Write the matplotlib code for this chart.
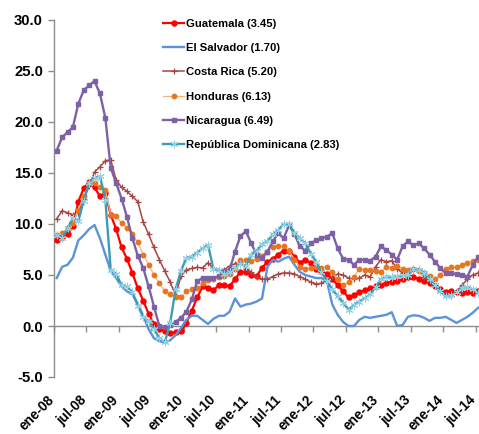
import matplotlib
matplotlib.use("Agg")
import matplotlib.pyplot as plt
import matplotlib.transforms as mtransforms
import numpy as np

plt.rcParams['font.family'] = ['Liberation Sans', 'DejaVu Sans']

# ---- data (monthly, ene-08 .. jul-14) ----
tick_labels = ["ene-08", "jul-08", "ene-09", "jul-09", "ene-10", "jul-10", "ene-11",
               "jul-11", "ene-12", "jul-12", "ene-13", "jul-13", "ene-14", "jul-14"]

guatemala = [8.4, 8.7, 9.0, 9.8, 12.2, 13.5, 14.1, 13.6, 12.7, 13.0, 10.9, 9.5,
             7.7, 6.6, 5.2, 3.7, 2.5, 1.2, 0.2, -0.3, -0.5, -0.7, -0.6, -0.5,
             0.3, 1.5, 2.8, 3.9, 3.7, 3.5, 4.0, 4.0, 3.9, 4.6, 5.3, 5.3,
             5.0, 4.9, 5.7, 6.3, 6.6, 7.0, 7.4, 7.4, 6.8, 6.2, 6.5, 6.2,
             5.6, 5.4, 5.1, 4.6, 4.0, 3.4, 2.8, 3.0, 3.3, 3.5, 3.7, 3.9,
             4.0, 4.2, 4.35, 4.4, 4.6, 4.8, 4.85, 4.6, 4.4, 4.2, 3.9, 3.6,
             3.35, 3.4, 3.3, 3.2, 3.3, 3.2, 3.4]

el_salvador = [4.7, 5.8, 6.0, 6.7, 8.4, 8.9, 9.5, 9.9, 8.6, 7.0, 5.4, 4.7,
               3.9, 3.4, 3.1, 2.2, 1.0, -0.3, -1.2, -1.5, -1.6, -1.4, -0.9, -0.2,
               0.6, 1.0, 1.0, 0.6, 0.2, 0.7, 1.0, 1.0, 1.4, 2.7, 1.9, 2.1,
               2.2, 2.4, 2.7, 5.8, 6.5, 6.3, 6.6, 6.8, 6.0, 5.3, 5.0, 4.85,
               4.7, 4.7, 4.4, 2.1, 1.1, 0.4, 0.0, 0.0, 0.6, 0.9, 0.8, 0.9,
               1.0, 1.1, 1.35, 0.0, 0.1, 0.9, 1.05, 1.0, 0.8, 0.5, 0.8, 0.8,
               0.9, 0.6, 0.3, 0.6, 0.9, 1.3, 1.8]

costa_rica = [10.5, 11.3, 11.1, 10.9, 11.1, 12.5, 13.7, 15.1, 15.6, 16.2, 16.3, 14.3,
              13.6, 13.2, 12.7, 12.2, 10.2, 9.0, 7.7, 6.5, 5.4, 4.3, 3.0, 4.9,
              5.5, 5.65, 5.75, 5.7, 6.2, 5.65, 5.5, 5.5, 5.9, 6.1, 6.3, 5.6,
              5.3, 4.8, 4.6, 4.6, 4.85, 5.1, 5.2, 5.2, 5.1, 4.85, 4.6, 4.3,
              4.1, 4.2, 4.5, 4.8, 5.1, 5.0, 4.7, 4.6, 4.7, 5.0, 4.8, 5.8,
              6.5, 6.3, 6.4, 5.6, 5.2, 5.4, 5.5, 5.6, 4.8, 4.4, 3.9, 3.5,
              3.0, 2.9, 3.4, 4.0, 4.6, 5.0, 5.2]

honduras = [8.9, 9.1, 9.6, 10.1, 11.4, 12.7, 14.0, 14.0, 13.6, 13.3, 10.9, 10.8,
            10.1, 9.6, 9.0, 8.2, 7.0, 6.0, 5.0, 4.2, 3.4, 3.1, 2.8, 2.8,
            3.4, 3.6, 3.7, 4.2, 4.5, 4.6, 4.8, 4.9, 5.1, 5.6, 6.5, 6.5,
            6.4, 6.6, 6.9, 7.3, 7.7, 7.8, 7.8, 7.4, 6.5, 5.8, 5.6, 5.7,
            5.8, 5.7, 5.8, 5.3, 4.6, 4.0, 4.3, 4.8, 5.6, 5.5, 5.5, 5.4,
            5.3, 5.8, 5.7, 5.9, 5.6, 5.5, 5.6, 5.4, 5.2, 4.9, 4.6, 5.0,
            5.6, 5.8, 5.8, 6.0, 6.2, 6.4, 6.5]

nicaragua = [17.2, 18.5, 19.0, 19.5, 21.8, 23.1, 23.6, 24.0, 22.8, 20.4, 15.5, 14.0,
             12.5, 10.7, 8.6, 6.9, 5.7, 3.9, 1.9, 0.0, -0.1, 0.1, 0.4, 0.8,
             1.4, 2.6, 4.4, 4.7, 4.7, 4.7, 4.9, 5.4, 5.5, 7.3, 8.8, 9.3,
             8.1, 7.0, 6.7, 7.3, 8.3, 9.1, 8.6, 9.9, 9.0, 7.8, 7.4, 8.1,
             8.4, 8.6, 8.75, 9.1, 7.6, 6.6, 6.5, 6.0, 6.5, 6.5, 6.4, 6.8,
             7.8, 7.45, 7.0, 6.5, 7.8, 8.3, 7.9, 8.1, 7.6, 7.0, 6.3, 5.65,
             5.2, 5.15, 5.1, 5.0, 4.85, 6.0, 6.8]

rep_dominicana = [8.9, 8.6, 9.6, 10.6, 10.3, 12.3, 14.0, 14.5, 14.7, 12.4, 5.5, 5.1,
                  4.0, 3.9, 3.3, 2.0, 0.9, 0.5, -0.3, -1.2, -1.6, 0.3, 3.6, 5.4,
                  6.7, 6.8, 7.2, 7.6, 7.95, 5.6, 5.5, 5.1, 5.3, 5.7, 6.1, 5.9,
                  7.0, 7.4, 8.0, 8.3, 9.0, 9.4, 10.0, 10.0, 9.1, 8.6, 8.1, 7.1,
                  6.3, 5.3, 4.4, 3.6, 2.9, 2.3, 1.6, 2.05, 2.4, 2.7, 3.1, 3.8,
                  4.6, 4.85, 4.8, 4.9, 4.9, 5.0, 5.6, 5.5, 5.2, 4.6, 4.0, 3.4,
                  2.9, 3.0, 3.3, 3.7, 3.8, 3.6, 3.2]

series_names = ["Guatemala (3.45)", "El Salvador (1.70)", "Costa Rica (5.20)",
                "Honduras (6.13)", "Nicaragua (6.49)", "República Dominicana (2.83)"]

# ---- figure ----
W, H = 479, 434
fig = plt.figure(figsize=(W / 100, H / 100), dpi=100)
ax = fig.add_axes([54 / W, 1 - 377 / H, (W - 54) / W + 0.004, (377 - 20) / H])

x = np.arange(len(guatemala))

ax.plot(x, guatemala, color='#FF0000', lw=1.6, marker='o', ms=3.6,
        mfc='#FF0000', mec='#FF0000', label=series_names[0], zorder=3)
ax.plot(x, el_salvador, color='#5B93DB', lw=1.7, label=series_names[1], zorder=3)
ax.plot(x, costa_rica, color='#A64744', lw=1.1, marker='+', ms=5, mew=0.9,
        label=series_names[2], zorder=3)
ax.plot(x, honduras, color='#F9B27A', lw=0.9, marker='o', ms=3.2,
        mfc='#E8761E', mec='#E8761E', label=series_names[3], zorder=3)
ax.plot(x, nicaragua, color='#7D60A6', lw=1.7, marker='s', ms=3.3,
        mfc='#7D60A6', mec='#7D60A6', label=series_names[4], zorder=3)
ax.plot(x, rep_dominicana, color='#3C9CB4', lw=1.7, marker=(6, 2, 0), ms=5.5,
        mew=0.7, mec='#8FD0E2', label=series_names[5], zorder=3)

ax.set_xlim(-0.5, len(guatemala) - 0.5)
ax.set_ylim(-5, 30)
ax.set_yticks(np.arange(-5, 31, 5))
ax.set_yticklabels([f"{v:.1f}" for v in np.arange(-5, 31, 5)],
                   fontsize=10.7, fontweight='bold')

axis_col = '#8C8C8C'
for s in ['top', 'right']:
    ax.spines[s].set_visible(False)
ax.spines['left'].set_color(axis_col)
ax.spines['left'].set_linewidth(1.0)
ax.spines['bottom'].set_position(('data', 0))
ax.spines['bottom'].set_color(axis_col)
ax.spines['bottom'].set_linewidth(1.0)
ax.tick_params(axis='y', colors=axis_col, length=4, width=1, labelcolor='black', pad=4)

# tick marks at category boundaries on the zero line
ax.set_xticks(np.arange(len(tick_labels)) * 6 - 0.5)
ax.tick_params(axis='x', direction='out', length=4, width=1, colors=axis_col,
               labelbottom=False)

# category labels below the plot area (low position), rotated 45 degrees
label_pos = np.arange(len(tick_labels)) * 6
offset = mtransforms.ScaledTranslation(-5 / 100, -21 / 100, fig.dpi_scale_trans)
trans = ax.get_xaxis_transform() + offset
for pos, lab in zip(label_pos, tick_labels):
    ax.text(pos, 0, lab, transform=trans, rotation=45, rotation_mode='anchor',
            ha='right', va='center', fontsize=9.8, fontweight='bold', clip_on=False)

leg = ax.legend(loc='upper left', bbox_to_anchor=(163 / W, 1 - 19 / H),
                bbox_transform=fig.transFigure, frameon=False,
                prop={'size': 8.1, 'weight': 'bold'}, handlelength=1.9,
                handletextpad=0.15, labelspacing=1.26, borderpad=0, borderaxespad=0)

fig.savefig("out.png", dpi=100)
